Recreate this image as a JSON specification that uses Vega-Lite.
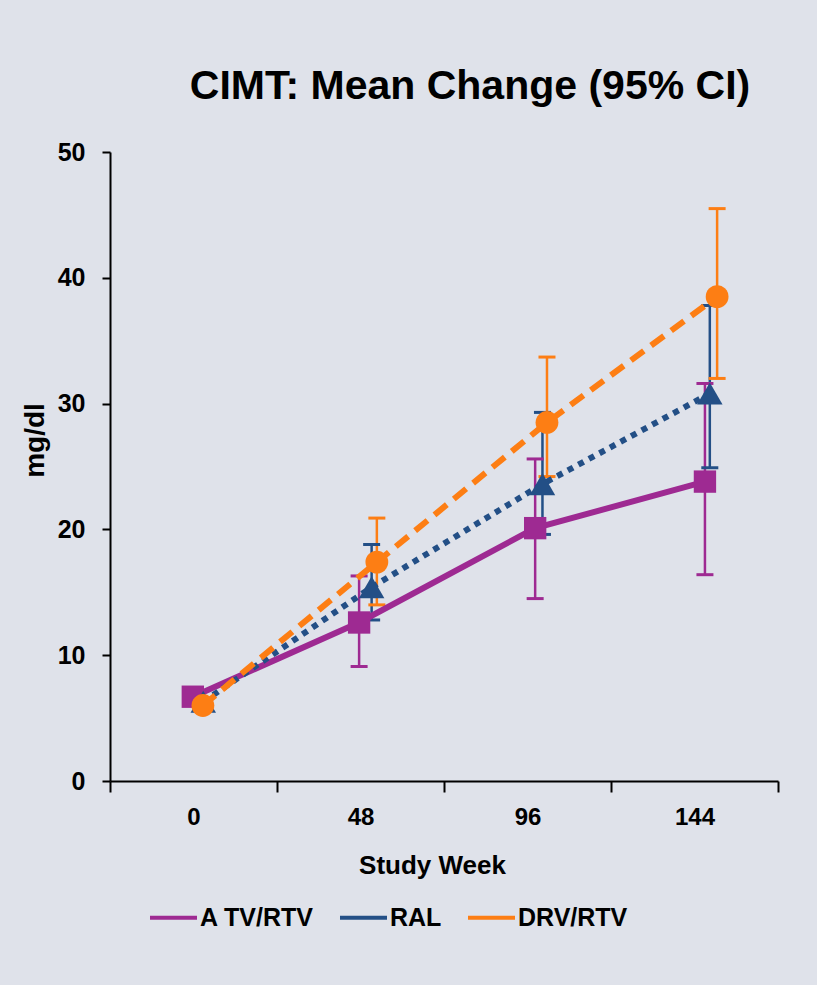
{
  "$schema": "https://vega.github.io/schema/vega-lite/v6.json",
  "width": 668,
  "height": 629,
  "autosize": {"type": "none"},
  "padding": {"left": 110, "top": 152, "right": 39, "bottom": 204},
  "background": "#dfe2ea",
  "config": {
    "view": {"stroke": null},
    "font": "Liberation Sans",
    "axis": {
      "domainColor": "#000000",
      "domainWidth": 2,
      "tickColor": "#000000",
      "tickWidth": 2,
      "labelColor": "#000000",
      "labelFont": "Liberation Sans",
      "labelFontWeight": "bold",
      "titleColor": "#000000",
      "titleFont": "Liberation Sans",
      "titleFontWeight": "bold",
      "grid": false,
      "labelOverlap": false,
      "labelFlush": false
    }
  },
  "title": {
    "text": "CIMT: Mean Change (95% CI)",
    "font": "Liberation Sans",
    "fontSize": 41,
    "fontWeight": "bold",
    "color": "#000000",
    "anchor": "middle",
    "frame": "group",
    "dx": 26,
    "baseline": "alphabetic",
    "offset": 0
  },
  "data": {
    "values": [
      {"series": "A TV/RTV", "visit": 0, "week": -0.2, "mean": 6.7, "lo": null, "hi": null},
      {"series": "A TV/RTV", "visit": 48, "week": 47.6, "mean": 12.6, "lo": 9.1, "hi": 16.3},
      {"series": "A TV/RTV", "visit": 96, "week": 98.2, "mean": 20.1, "lo": 14.5, "hi": 25.6},
      {"series": "A TV/RTV", "visit": 144, "week": 147.0, "mean": 23.8, "lo": 16.4, "hi": 31.6},
      {"series": "RAL", "visit": 0, "week": 2.8, "mean": 6.3, "lo": null, "hi": null},
      {"series": "RAL", "visit": 48, "week": 51.2, "mean": 15.4, "lo": 12.8, "hi": 18.8},
      {"series": "RAL", "visit": 96, "week": 100.3, "mean": 23.6, "lo": 19.6, "hi": 29.3},
      {"series": "RAL", "visit": 144, "week": 148.4, "mean": 30.8, "lo": 24.9, "hi": 37.8},
      {"series": "DRV/RTV", "visit": 0, "week": 2.7, "mean": 6.0, "lo": null, "hi": null},
      {"series": "DRV/RTV", "visit": 48, "week": 52.7, "mean": 17.4, "lo": 14.0, "hi": 20.9},
      {"series": "DRV/RTV", "visit": 96, "week": 101.6, "mean": 28.5, "lo": 24.2, "hi": 33.7},
      {"series": "DRV/RTV", "visit": 144, "week": 150.5, "mean": 38.5, "lo": 32.0, "hi": 45.5}
    ]
  },
  "encoding": {
    "x": {
      "field": "week",
      "type": "quantitative",
      "scale": {"domain": [-24, 168], "nice": false, "zero": false},
      "axis": {
        "values": [-24, 0, 24, 48, 72, 96, 120, 144, 168],
        "labelExpr": "datum.value % 48 === 0 ? datum.label : ''",
        "tickOpacity": {"condition": {"test": "datum.value % 48 === 0", "value": 0}, "value": 1},
        "tickSize": 11,
        "labelFontSize": 24,
        "labelPadding": 13,
        "title": "Study Week",
        "titleFontSize": 26,
        "titleX": 322,
        "titleY": 92,
        "titleBaseline": "alphabetic"
      }
    },
    "y": {
      "field": "mean",
      "type": "quantitative",
      "scale": {"domain": [0, 50], "nice": false},
      "axis": {
        "values": [0, 10, 20, 30, 40, 50],
        "tickSize": 8,
        "labelPadding": 17,
        "labelFontSize": 25,
        "title": "mg/dl",
        "titleFontSize": 28,
        "titleAngle": -90,
        "titleX": -67,
        "titleY": 288,
        "titleBaseline": "alphabetic"
      }
    },
    "color": {
      "field": "series",
      "type": "nominal",
      "scale": {"domain": ["A TV/RTV", "RAL", "DRV/RTV"], "range": ["#9e2a92", "#234f86", "#fd7e14"]},
      "legend": {
        "orient": "none",
        "legendX": 38,
        "legendY": 740,
        "direction": "horizontal",
        "title": null,
        "symbolType": "stroke",
        "symbolSize": 2209,
        "symbolStrokeWidth": 4,
        "labelFontSize": 25,
        "labelFontWeight": "bold",
        "labelColor": "#000000",
        "labelFont": "Liberation Sans",
        "labelOffset": 1,
        "columnPadding": 18,
        "labelLimit": 400
      }
    }
  },
  "layer": [
    {
      "transform": [{"filter": "datum.lo != null"}],
      "mark": {"type": "rule", "strokeWidth": 2.5},
      "encoding": {
        "y": {"field": "lo", "type": "quantitative"},
        "y2": {"field": "hi"}
      }
    },
    {
      "transform": [{"filter": "datum.lo != null"}],
      "mark": {"type": "tick", "orient": "horizontal", "size": 17, "thickness": 3, "opacity": 1},
      "encoding": {
        "y": {"field": "lo", "type": "quantitative"}
      }
    },
    {
      "transform": [{"filter": "datum.hi != null"}],
      "mark": {"type": "tick", "orient": "horizontal", "size": 17, "thickness": 3, "opacity": 1},
      "encoding": {
        "y": {"field": "hi", "type": "quantitative"}
      }
    },
    {
      "transform": [{"filter": "datum.series === 'A TV/RTV'"}],
      "mark": {"type": "line", "strokeWidth": 6, "strokeCap": "butt"},
      "encoding": {}
    },
    {
      "transform": [{"filter": "datum.series === 'RAL'"}],
      "mark": {"type": "line", "strokeWidth": 6, "strokeCap": "butt", "strokeDash": [6, 6]},
      "encoding": {}
    },
    {
      "transform": [{"filter": "datum.series === 'DRV/RTV'"}],
      "mark": {"type": "line", "strokeWidth": 6, "strokeCap": "butt", "strokeDash": [16, 9]},
      "encoding": {}
    },
    {
      "transform": [{"filter": "datum.series === 'A TV/RTV'"}],
      "mark": {"type": "point", "filled": true, "opacity": 1, "shape": "square", "size": 500},
      "encoding": {}
    },
    {
      "transform": [{"filter": "datum.series === 'RAL'"}],
      "mark": {"type": "point", "filled": true, "opacity": 1, "shape": "triangle-up", "size": 650},
      "encoding": {}
    },
    {
      "transform": [{"filter": "datum.series === 'DRV/RTV'"}],
      "mark": {"type": "point", "filled": true, "opacity": 1, "shape": "circle", "size": 520},
      "encoding": {}
    }
  ]
}
